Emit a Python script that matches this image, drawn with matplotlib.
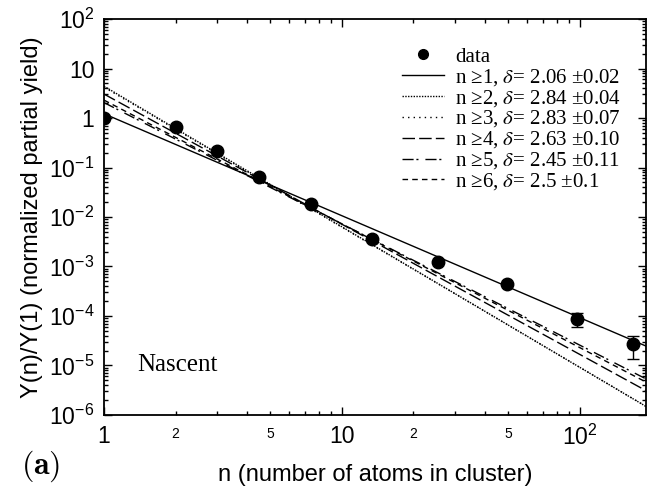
import numpy as np
import matplotlib
matplotlib.use('Agg')
import matplotlib.pyplot as plt
from matplotlib.lines import Line2D
from matplotlib.ticker import LogLocator, FuncFormatter, NullFormatter
from matplotlib.font_manager import FontProperties

plt.rcParams['font.family'] = ['Liberation Sans', 'DejaVu Sans']
plt.rcParams['mathtext.fontset'] = 'custom'
plt.rcParams['mathtext.rm'] = 'Liberation Sans'
plt.rcParams['mathtext.it'] = 'Liberation Sans:italic'

n_data = [1, 2, 3, 4.5, 7.4, 13.4, 25.3, 49.3, 97, 167]
y_data = [1.0, 0.66, 0.22, 0.064, 0.018, 0.0036, 0.00123, 4.4e-4, 8.7e-5, 2.7e-5]
y_lo = [1.0, 0.66, 0.22, 0.064, 0.018, 0.0036, 0.00123, 4.4e-4, 6.0e-5, 1.35e-5]
y_hi = [1.0, 0.66, 0.22, 0.064, 0.018, 0.0036, 0.00123, 4.4e-4, 1.15e-4, 4.0e-5]

# power law fits  Y = A n^-delta
fit_labels = ['1', '2', '3', '4', '5', '6']
fit_delta = [2.06, 2.84, 2.83, 2.63, 2.45, 2.5]
fit_err = ['0.02', '0.04', '0.07', '0.10', '0.11', '0.1']
fit_amp = [1.22, 4.4, 4.2, 3.05, 2.05, 2.3]
fit_styles = ['-', (0, (1, 1)), (0, (1, 3)), (0, (9, 3)), (0, (8, 2, 1.5, 5)), (0, (4, 3))]

fig = plt.figure(figsize=(6.56, 4.98), dpi=100)
ax = fig.add_axes([0.1585, 0.1667, 0.8263, 0.7951])

nn = np.logspace(0, np.log10(190), 100)
handles = []
for lab, d, e, A, ls in zip(fit_labels, fit_delta, fit_err, fit_amp, fit_styles):
    h, = ax.plot(nn, A * nn ** (-d), color='k', ls=ls, lw=1.0,
                 label='n \u2265' + lab + r', $\delta$= ' + str(d) + ' \u00b1' + e)
    handles.append(h)

yerr = [np.array(y_data) - np.array(y_lo), np.array(y_hi) - np.array(y_data)]
ax.errorbar(n_data, y_data, yerr=yerr, fmt='o', color='k', ms=9,
            capsize=4, elinewidth=1, capthick=1, zorder=5)
data_handle = Line2D([], [], ls='none', marker='o', color='k', ms=7)

ax.set_xscale('log')
ax.set_yscale('log')
ax.set_xlim(1, 190)
ax.set_ylim(1e-6, 1e2)

ax.xaxis.set_major_locator(LogLocator(base=10, numticks=10))
ax.xaxis.set_minor_locator(LogLocator(base=10, subs=np.arange(2, 10), numticks=20))
ax.yaxis.set_major_locator(LogLocator(base=10, numticks=20))
ax.yaxis.set_minor_locator(LogLocator(base=10, subs=np.arange(2, 10), numticks=20))


def major_fmt(v, pos):
    e = int(round(np.log10(v)))
    if e == 0:
        return '1'
    if e == 1:
        return '10'
    return r'$10^{%d}$' % e


def xminor_fmt(v, pos):
    m = v / 10 ** np.floor(np.log10(v) + 1e-9)
    m = int(round(m))
    return str(m) if m in (2, 5) else ''


ax.xaxis.set_major_formatter(FuncFormatter(major_fmt))
ax.yaxis.set_major_formatter(FuncFormatter(major_fmt))
ax.xaxis.set_minor_formatter(FuncFormatter(xminor_fmt))
ax.yaxis.set_minor_formatter(NullFormatter())

ax.tick_params(which='both', direction='in', top=True, right=True, width=1.0)
ax.tick_params(which='major', length=6, labelsize=16.5, pad=7)
ax.tick_params(which='minor', length=3)
ax.tick_params(axis='x', which='minor', labelsize=10, pad=9)
for s in ax.spines.values():
    s.set_linewidth(1.3)

ax.set_xlabel('n (number of atoms in cluster)', fontsize=17, labelpad=10)
ax.set_ylabel('Y(n)/Y(1) (normalized partial yield)', fontsize=17, labelpad=4)

leg_font = FontProperties(family='Liberation Serif', size=15, math_fontfamily='stix')
ax.legend([data_handle] + handles, ['data'] + [h.get_label() for h in handles],
          loc='upper right', bbox_to_anchor=(0.97, 0.95), frameon=False,
          prop=leg_font, handlelength=2.0, handletextpad=0.55, labelspacing=0.0,
          borderaxespad=0)

ax.text(0.062, 0.11, 'Nascent', transform=ax.transAxes, fontsize=18,
        family='Liberation Serif')
fig.text(0.032, 0.048, r'$\mathbf{(a)}$', fontsize=23, math_fontfamily='cm')

fig.savefig('out.png', dpi=100)
